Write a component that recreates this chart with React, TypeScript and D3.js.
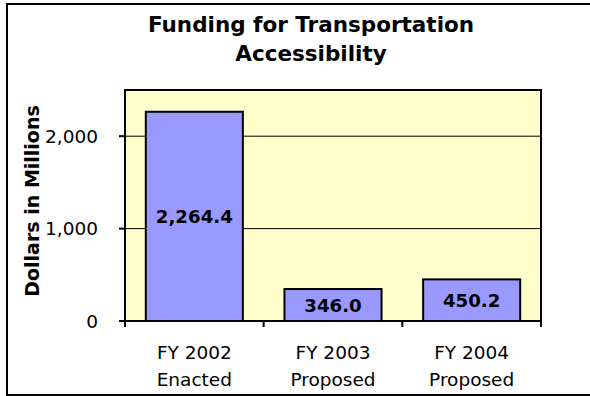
import React from "react";
import * as d3 from "d3";

const categories = [["FY 2002", "Enacted"], ["FY 2003", "Proposed"], ["FY 2004", "Proposed"]];
const values = [2264.4, 346.0, 450.2];
const valueLabels = ["2,264.4", "346.0", "450.2"];
const yTicks = [0, 1000, 2000];
const titleLines = ["Funding for Transportation", "Accessibility"];
const yTitle = "Dollars in Millions";

const W = 590, H = 396;
const plot = { left: 125, right: 541, top: 90, bottom: 321 };
const FONT = "'DejaVu Sans', Verdana, sans-serif";

export default function App() {
  const x = d3.scaleBand<number>().domain(d3.range(categories.length)).range([plot.left, plot.right]).padding(0);
  const y = d3.scaleLinear().domain([0, 2500]).range([plot.bottom, plot.top]);
  const bw = x.bandwidth() * 0.7;
  const fmt = d3.format(",");
  return (
    <svg width={W} height={H} style={{ position: "absolute", left: 0, top: 0 }} fontFamily={FONT}>
      <rect x={0} y={0} width={W} height={H} fill="#fff" />
      <rect x={7} y={4} width={W} height={391} fill="none" stroke="#000" strokeWidth={2} />
      {titleLines.map((t, i) => (
        <text key={i} x={311} y={32 + i * 29} textAnchor="middle" fontSize={21.5} fontWeight="bold" fill="#000">{t}</text>
      ))}
      <rect x={plot.left} y={plot.top} width={plot.right - plot.left} height={plot.bottom - plot.top} fill="#FFFFCC" />
      {yTicks.filter(v => v > 0).map(v => (
        <line key={v} x1={plot.left} x2={plot.right} y1={y(v)} y2={y(v)} stroke="#000" strokeWidth={1} />
      ))}
      {values.map((v, i) => {
        const cx = x(i)! + x.bandwidth() / 2;
        return (
          <g key={i}>
            <rect x={cx - bw / 2} y={y(v)} width={bw} height={y(0) - y(v)} fill="#9999FF" stroke="#000" strokeWidth={2} />
            <text x={cx} y={(y(v) + y(0)) / 2} dy="0.36em" textAnchor="middle" fontSize={18.2} fontWeight="bold" fill="#000">{valueLabels[i]}</text>
          </g>
        );
      })}
      <rect x={plot.left} y={plot.top} width={plot.right - plot.left} height={plot.bottom - plot.top} fill="none" stroke="#000" strokeWidth={2} />
      {yTicks.map(v => (
        <g key={v}>
          <line x1={plot.left - 6} x2={plot.left} y1={y(v)} y2={y(v)} stroke="#000" strokeWidth={2} />
          <text x={98} y={y(v)} dy="0.36em" textAnchor="end" fontSize={18.5} fill="#000">{fmt(v)}</text>
        </g>
      ))}
      {d3.range(categories.length + 1).map(i => {
        const xx = plot.left + i * x.step();
        return <line key={i} x1={xx} x2={xx} y1={plot.bottom} y2={plot.bottom + 6} stroke="#000" strokeWidth={2} />;
      })}
      {categories.map((c, i) => {
        const cx = x(i)! + x.bandwidth() / 2;
        return (
          <text key={i} x={cx} textAnchor="middle" fontSize={18.5} fill="#000">
            <tspan x={cx} y={359}>{c[0]}</tspan>
            <tspan x={cx} y={386}>{c[1]}</tspan>
          </text>
        );
      })}
      <text transform={`translate(39,201) rotate(-90)`} textAnchor="middle" fontSize={19} fontWeight="bold" fill="#000">{yTitle}</text>
    </svg>
  );
}
